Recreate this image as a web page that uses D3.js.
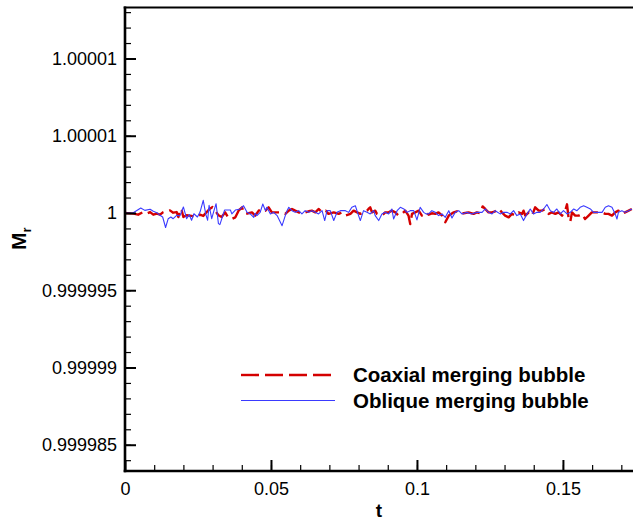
<!DOCTYPE html>
<html><head><meta charset="utf-8">
<script src="https://cdn.jsdelivr.net/npm/d3@7"></script>
<style>html,body{margin:0;padding:0;background:#fff;}svg{display:block;}</style>
</head><body>
<script>
// ---- data ----
const yTickValues = [0.999985, 0.99999, 0.999995, 1, 1.000005, 1.00001];
const yTickLabels = ["0.999985", "0.99999", "0.999995", "1", "1.00001", "1.00001"];
const xTickValues = [0, 0.05, 0.1, 0.15];
const xTickLabels = ["0", "0.05", "0.1", "0.15"];
const seriesNames = ["Coaxial merging bubble", "Oblique merging bubble"];

const tRed = [0,0.0029,0.0045,0.0062,0.0074,0.0086,0.0097,0.0109,0.0120,0.0131,0.0143,0.0154,0.0165,0.0177,0.0183,0.0188,0.0194,0.0200,0.0211,0.0228,0.0245,0.0257,0.0268,0.0280,0.0291,0.0300,0.0308,0.0320,0.0331,0.0343,0.0353,0.0366,0.0378,0.0389,0.0401,0.0406,0.0412,0.0435,0.0446,0.0458,0.0469,0.0481,0.0492,0.0503,0.0521,0.0538,0.0549,0.0561,0.0572,0.0583,0.0595,0.0606,0.0617,0.0629,0.0640,0.0652,0.0663,0.0675,0.0688,0.0697,0.0715,0.0732,0.0743,0.0755,0.0772,0.0783,0.0795,0.0806,0.0817,0.0829,0.0834,0.0840,0.0846,0.0857,0.0863,0.0874,0.0886,0.0891,0.0903,0.0914,0.0926,0.0937,0.0949,0.0960,0.0971,0.0977,0.0983,0.0994,0.1006,0.1017,0.1031,0.1040,0.1051,0.1063,0.1074,0.1086,0.1097,0.1109,0.1126,0.1137,0.1148,0.1160,0.1177,0.1194,0.1205,0.1217,0.1225,0.1234,0.1245,0.1257,0.1268,0.1280,0.1291,0.1302,0.1314,0.1325,0.1337,0.1348,0.1360,0.1365,0.1371,0.1383,0.1394,0.1405,0.1417,0.1428,0.1439,0.1451,0.1462,0.1474,0.1485,0.1497,0.1508,0.1514,0.1519,0.1525,0.1531,0.1542,0.1554,0.1565,0.1576,0.1588,0.1599,0.1611,0.1622,0.1634,0.1645,0.1656,0.1668,0.1679,0.1690,0.1702,0.1713,0.1725,0.1736];
const mrRed = [1,0.99999996,0.99999989,1.00000006,0.99999996,1.00000006,0.99999989,0.99999996,0.99999989,1.00000006,1.00000011,1.00000017,1.00000002,1.00000006,0.99999974,1.00000028,1.00000017,0.99999974,0.99999985,0.99999981,0.99999974,0.99999989,0.99999981,1.00000006,1.00000028,1.00000039,1.00000017,0.99999985,0.99999974,1.00000004,0.99999972,0.99999961,0.99999972,1.00000015,1.00000037,1.00000004,0.99999994,1.00000004,0.99999983,1.00000015,1.00000026,1.00000015,1.00000037,1.00000004,1.00000004,1.00000004,0.99999994,1.00000015,1.00000026,1.00000015,1.00000004,0.99999994,1.00000004,1.00000011,1.00000015,1.00000004,1.00000026,1.00000004,1.00000015,0.99999994,1.00000004,0.99999994,1.00000004,0.99999983,0.99999994,1.00000015,1.00000004,0.99999994,1.00000004,1.00000015,1.00000026,1.00000037,1.00000004,1.00000015,0.99999994,0.99999983,0.99999994,1.00000004,1.00000004,1.00000015,1.00000004,0.99999983,0.99999994,1.00000015,0.99999983,0.99999929,0.99999994,1.00000004,1.00000015,0.99999983,1.00000004,0.99999989,0.99999998,0.99999994,1.00000004,0.99999983,0.9999994,0.99999983,1.00000004,1.00000011,0.99999994,0.99999998,1.00000004,0.99999994,1.00000004,0.99999998,1.00000042,1.00000026,1.00000004,1.00000004,1.00000011,1.00000029,1.00000004,0.99999983,0.99999972,0.99999994,0.99999983,1.00000004,0.99999994,1.00000015,0.99999983,1.00000004,0.99999983,1.00000037,1.00000015,1.00000015,1.00000026,0.99999994,1.00000004,0.99999994,1.00000004,0.99999983,1.00000015,1.00000056,0.99999972,0.99999942,1.00000004,0.99999983,0.99999983,0.99999994,0.99999961,0.99999983,1.00000004,1.00000004,1.00000004,1.00000004,0.99999994,0.99999994,0.99999983,1.00000004,1.00000015,0.99999994,1.00000004,1.00000015,1.00000026];

const tBlue = [0,0.0027,0.0054,0.0068,0.0086,0.0097,0.0109,0.0117,0.0129,0.0139,0.0148,0.0157,0.0165,0.0177,0.0188,0.0200,0.0211,0.0220,0.0228,0.0236,0.0248,0.0257,0.0268,0.0277,0.0283,0.0288,0.0297,0.0305,0.0312,0.0320,0.0325,0.0341,0.0361,0.0366,0.0378,0.0395,0.0406,0.0418,0.0429,0.0441,0.0446,0.0452,0.0463,0.0472,0.0481,0.0486,0.0498,0.0509,0.0521,0.0538,0.0549,0.0555,0.0561,0.0572,0.0583,0.0595,0.0606,0.0617,0.0629,0.0640,0.0652,0.0663,0.0675,0.0684,0.0692,0.0703,0.0715,0.0726,0.0738,0.0755,0.0766,0.0777,0.0789,0.0800,0.0806,0.0817,0.0829,0.0840,0.0852,0.0857,0.0869,0.0880,0.0891,0.0903,0.0914,0.0920,0.0932,0.0943,0.0955,0.0966,0.0977,0.0989,0.1000,0.1011,0.1023,0.1031,0.1040,0.1051,0.1063,0.1074,0.1086,0.1097,0.1109,0.1120,0.1131,0.1143,0.1154,0.1171,0.1188,0.1205,0.1223,0.1234,0.1245,0.1257,0.1268,0.1285,0.1297,0.1308,0.1320,0.1331,0.1342,0.1354,0.1365,0.1377,0.1388,0.1399,0.1411,0.1422,0.1434,0.1445,0.1457,0.1468,0.1479,0.1491,0.1502,0.1514,0.1525,0.1537,0.1548,0.1559,0.1571,0.1582,0.1594,0.1605,0.1616,0.1634,0.1645,0.1656,0.1668,0.1679,0.1685,0.1690,0.1702,0.1713,0.1725,0.1736];
const mrBlue = [1,1,1.00000032,1.00000017,1.00000024,1.00000011,1.00000002,0.99999989,0.99999974,0.99999906,0.99999963,0.99999974,0.99999963,0.99999985,0.99999981,1.00000039,0.99999963,0.99999989,0.99999953,0.99999995,0.99999974,1.00000006,1.00000082,0.99999989,0.99999953,1.0000005,0.99999963,1.00000017,1.0000006,0.99999931,0.99999925,1.00000019,1.00000019,0.99999994,1.00000019,1.00000026,1.00000047,1.00000004,0.99999994,0.99999972,0.99999998,0.99999983,1.00000004,1.00000058,1.00000015,1.00000037,0.99999994,1.00000004,0.99999983,0.99999918,0.99999983,1.00000015,1.00000037,1.00000015,1.00000004,1.00000015,0.99999994,1.00000015,1.00000004,1.00000015,1.00000004,0.99999994,1.00000015,0.99999951,1.00000015,1.00000015,0.99999951,1.00000004,1.00000015,1.00000015,1.00000004,1.00000037,1.00000047,0.99999983,0.99999951,1.00000015,1.00000004,0.99999994,1.00000015,0.99999983,0.99999951,0.99999994,1.00000004,0.99999994,1.00000026,0.99999961,1.00000015,1.00000037,1.00000026,1.00000004,1.00000015,1.00000015,0.99999955,1.00000037,1.00000004,0.99999994,0.99999994,1.00000015,1.00000004,0.99999983,0.99999994,0.99999972,1.00000015,0.99999968,1.00000004,1.00000015,0.99999994,1.00000004,0.99999994,1.00000004,1.00000004,1.00000026,1.00000004,0.99999994,1.00000015,0.99999994,1.00000004,1.00000004,0.99999994,1.00000015,0.99999983,0.99999994,0.99999951,0.99999994,1.00000026,0.99999994,1.00000004,1.00000004,1.00000026,1.00000055,1.00000015,1.00000004,1.00000026,0.99999994,1.00000015,0.99999994,1.00000004,1.00000026,1.00000015,1.00000037,1.00000047,1.00000037,1.00000026,1.00000004,1.00000004,1.00000004,1.00000037,1.00000047,1.00000037,0.99999994,0.99999961,1.00000004,1.00000015,1.00000004,1.00000015,1.00000026];

// ---- layout ----
const W = 633, H = 522;
const L = 125, R = 633, T = 7.5, B = 471;
const FONT = "'Liberation Sans', Arial, Helvetica, sans-serif";

const svg = d3.select("body").append("svg").attr("width", W).attr("height", H)
  .style("font-family", FONT);

const x = d3.scaleLinear().domain([0, 0.174]).range([L, R]);
const y = d3.scaleLinear().domain([0.9999833, 1.0000133]).range([B, T]);

svg.append("defs").append("clipPath").attr("id", "clip")
  .append("rect").attr("x", L).attr("y", T).attr("width", R - L).attr("height", B - T);

// data lines
const red = tRed.map((t, i) => [t, mrRed[i]]);
const blue = tBlue.map((t, i) => [t, mrBlue[i]]);
const line = d3.line().x(d => x(d[0])).y(d => y(d[1]));
const g = svg.append("g").attr("clip-path", "url(#clip)");
g.append("path").datum(red).attr("d", line).attr("fill", "none")
  .attr("stroke", "#d40000").attr("stroke-width", 2.4).attr("stroke-dasharray", "18,6")
  .attr("stroke-linejoin", "round");
g.append("path").datum(blue).attr("d", line).attr("fill", "none")
  .attr("stroke", "#3a3aff").attr("stroke-width", 1.1).attr("stroke-linejoin", "round");

// minor ticks
const yMinor = d3.range(-16, 14).map(k => 1 + k * 1e-6);
const xMinor = d3.range(1, 18).map(k => k * 0.01);

// y axis
const yAxis = d3.axisLeft(y).tickValues(yTickValues).tickSize(-11).tickPadding(8)
  .tickFormat((d, i) => yTickLabels[i]);
const ya = svg.append("g").attr("transform", `translate(${L},0)`).call(yAxis);
const yAxisMinor = d3.axisLeft(y).tickValues(yMinor).tickSize(-6).tickFormat("");
const yam = svg.append("g").attr("transform", `translate(${L},0)`).call(yAxisMinor);

// x axis
const xAxis = d3.axisBottom(x).tickValues(xTickValues).tickSize(-11).tickPadding(11)
  .tickFormat((d, i) => xTickLabels[i]);
const xa = svg.append("g").attr("transform", `translate(0,${B})`).call(xAxis);
const xAxisMinor = d3.axisBottom(x).tickValues(xMinor).tickSize(-6).tickFormat("");
const xam = svg.append("g").attr("transform", `translate(0,${B})`).call(xAxisMinor);

[ya, yam, xa, xam].forEach(a => {
  a.select(".domain").remove();
  a.selectAll(".tick line").attr("stroke", "#000").attr("stroke-width", 1.2);
  a.selectAll(".tick text").attr("fill", "#000").style("font-size", "18px").style("font-family", FONT);
});
ya.selectAll(".tick line").attr("stroke-width", 2);
xa.selectAll(".tick line").attr("stroke-width", 2);

// frame lines
svg.append("line").attr("x1", L).attr("x2", L).attr("y1", T - 1).attr("y2", B + 1.2)
  .attr("stroke", "#000").attr("stroke-width", 2.6);
svg.append("line").attr("x1", L - 1.3).attr("x2", R).attr("y1", B).attr("y2", B)
  .attr("stroke", "#000").attr("stroke-width", 2.4);
svg.append("line").attr("x1", L - 1.3).attr("x2", R).attr("y1", T).attr("y2", T)
  .attr("stroke", "#000").attr("stroke-width", 2.2);

// axis titles
svg.append("text").attr("x", (L + R) / 2).attr("y", 517).attr("text-anchor", "middle")
  .style("font-weight", "bold").style("font-size", "19px").text("t");
const yt = svg.append("text").attr("transform", "translate(25.5,250) rotate(-90)")
  .attr("text-anchor", "start").style("font-weight", "bold").style("font-size", "21px");
yt.append("tspan").text("M");
yt.append("tspan").attr("dy", 5).style("font-size", "13px").text("r");

// legend
const legY = [375, 400.5];
const legStyles = [
  {stroke: "#d40000", w: 2.4, dash: "18,6"},
  {stroke: "#3a3aff", w: 1.1, dash: null}
];
seriesNames.forEach((name, i) => {
  const s = legStyles[i];
  const ln = svg.append("line").attr("x1", 241).attr("x2", 335).attr("y1", legY[i]).attr("y2", legY[i])
    .attr("stroke", s.stroke).attr("stroke-width", s.w);
  if (s.dash) ln.attr("stroke-dasharray", s.dash);
  svg.append("text").attr("x", 353).attr("y", legY[i] + 7).style("font-weight", "bold")
    .style("font-size", "20.5px").text(name);
});
</script>
</body></html>
